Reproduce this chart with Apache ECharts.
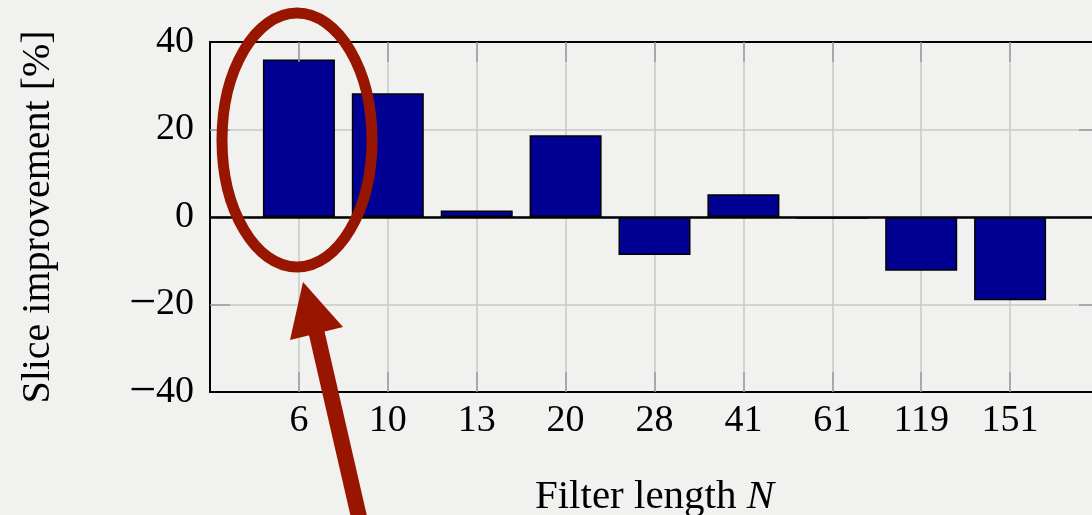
<!DOCTYPE html>
<html>
<head>
<meta charset="utf-8">
<title>Slice improvement vs filter length</title>
<script src="https://cdn.jsdelivr.net/npm/echarts@6/dist/echarts.min.js"></script>
<style>
  html, body { margin: 0; padding: 0; background: #f1f1ef; }
  #chart { width: 1092px; height: 515px; }
</style>
</head>
<body>
<div id="chart"></div>
<script>
// Filter lengths N (x categories) and the slice improvement in percent
const categories = ['6', '10', '13', '20', '28', '41', '61', '119', '151'];
const improvement = [36.0, 28.3, 1.5, 18.7, -8.7, 5.2, -0.4, -12.3, -19.0];
const yTicks = { min: -40, max: 40, interval: 20 };

// one empty slot on each side so the bars sit inside the frame
const axisCats = [''].concat(categories, ['']);
const seriesData = ['-'].concat(improvement, ['-']);
const lastIdx = axisCats.length - 1;
const innerOnly = idx => idx > 0 && idx < lastIdx;

const serif = '"Liberation Serif", "DejaVu Serif", serif';
const gridColor = '#c8c8c8';
const tickColor = '#9c9c9c';

const chart = echarts.init(document.getElementById('chart'), null, { renderer: 'canvas' });

// negative tick values get a wide typeset minus sign
const minusFmt = v => (v < 0 ? '{m|\u2212}{d|' + Math.abs(v) + '}' : '{d|' + v + '}');

const frameX = (position) => ({
  type: 'category',
  data: axisCats,
  boundaryGap: false,
  position: position,
  z: 3,
  axisLine: { show: true, onZero: false, lineStyle: { color: '#000', width: 2 } },
  axisTick: { show: true, inside: true, length: 20, interval: innerOnly,
              lineStyle: { color: tickColor, width: 1.5 } },
  splitLine: { show: false }
});

const frameY = (position) => ({
  type: 'value',
  min: yTicks.min, max: yTicks.max, interval: yTicks.interval,
  position: position,
  z: 1,
  axisLine: { show: true, onZero: false, lineStyle: { color: '#000', width: 2 } },
  axisTick: { show: true, inside: true, length: 20, lineStyle: { color: tickColor, width: 1.5 } }
});

chart.setOption({
  backgroundColor: '#f1f1ef',
  animation: false,
  grid: { left: 210, right: -7, top: 42, bottom: 123, containLabel: false, outerBoundsMode: 'none' },
  xAxis: [
    Object.assign(frameX('bottom'), {
      axisLabel: { color: '#000', fontFamily: serif, fontSize: 38, margin: 10 },
      name: '{t|Filter length }{n|N}',
      nameLocation: 'middle',
      nameGap: 85,
      nameTextStyle: {
        rich: {
          t: { fontFamily: serif, fontSize: 41, color: '#000' },
          n: { fontFamily: serif, fontSize: 41, fontStyle: 'italic', color: '#000' }
        }
      }
    }),
    Object.assign(frameX('top'), { axisLabel: { show: false } }),
    // vertical grid lines, kept beneath the bars
    {
      type: 'category',
      data: axisCats,
      boundaryGap: false,
      position: 'bottom',
      z: 0,
      axisLine: { show: false },
      axisTick: { show: false },
      axisLabel: { show: false },
      splitLine: { show: true, interval: innerOnly, lineStyle: { color: gridColor, width: 1.5 } }
    }
  ],
  yAxis: [
    Object.assign(frameY('left'), {
      axisLabel: {
        color: '#000', margin: 16, formatter: minusFmt,
        rich: {
          m: { fontFamily: serif, fontSize: 48, color: '#000' },
          d: { fontFamily: serif, fontSize: 38, color: '#000' }
        }
      },
      splitLine: { show: true, lineStyle: { color: gridColor, width: 1.5 } },
      name: 'Slice improvement [%]',
      nameLocation: 'middle',
      nameGap: 152,
      nameTextStyle: { fontFamily: serif, fontSize: 40, color: '#000' }
    }),
    Object.assign(frameY('right'), { axisLabel: { show: false }, splitLine: { show: false } })
  ],
  series: [
    {
      type: 'bar',
      xAxisIndex: 0,
      yAxisIndex: 0,
      data: seriesData,
      barWidth: 72,
      itemStyle: { color: '#000092', borderColor: '#000', borderWidth: 1.5 },
      markLine: {
        silent: true,
        symbol: ['none', 'none'],
        label: { show: false },
        lineStyle: { color: '#000', width: 2.5, type: 'solid' },
        data: [{ yAxis: 0 }]
      }
    }
  ],
  graphic: [
    {
      type: 'ellipse',
      shape: { cx: 297, cy: 140, rx: 75, ry: 127 },
      style: { fill: 'none', stroke: '#981500', lineWidth: 11 },
      z: 100
    },
    {
      type: 'line',
      shape: { x1: 316, y1: 330, x2: 362, y2: 530 },
      style: { stroke: '#981500', lineWidth: 16 },
      z: 100
    },
    {
      type: 'polygon',
      shape: { points: [[303, 282], [290, 340], [343, 327]] },
      style: { fill: '#981500' },
      z: 101
    }
  ]
});
</script>
</body>
</html>
